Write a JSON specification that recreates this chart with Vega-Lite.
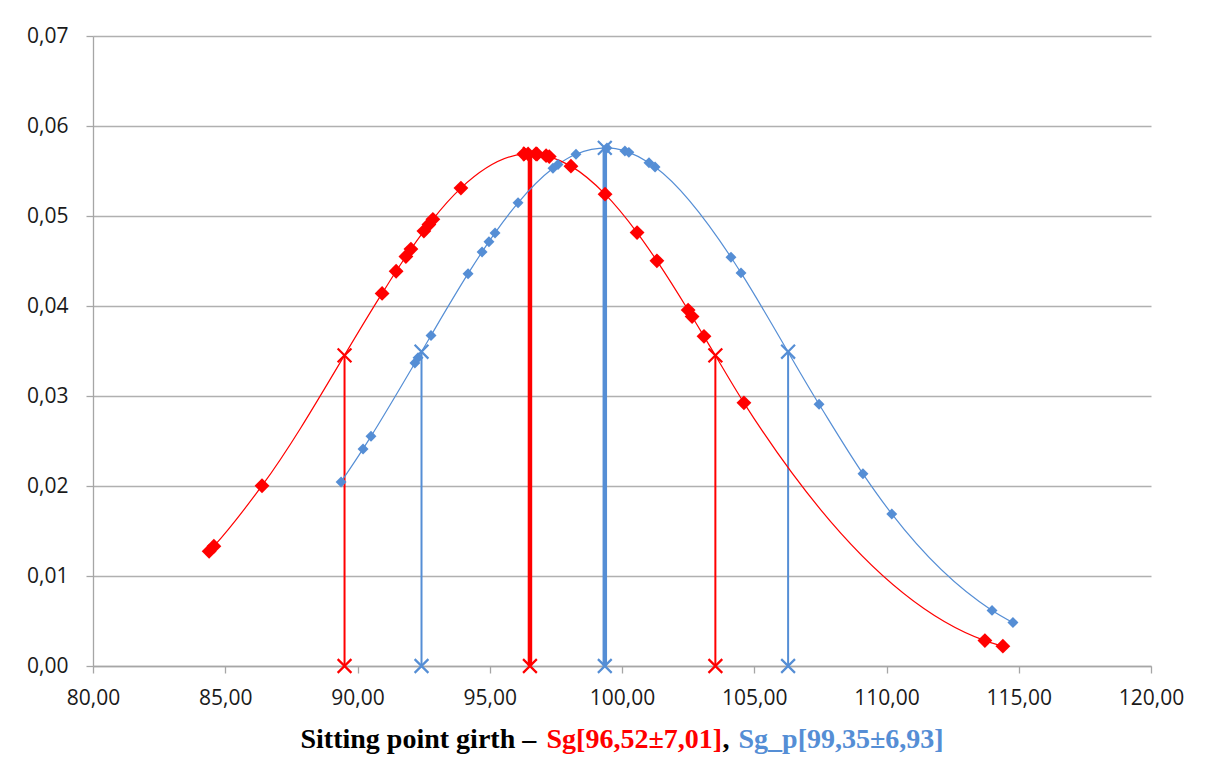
{
  "$schema": "https://vega.github.io/schema/vega-lite/v6.json",
  "width": 1058,
  "height": 630,
  "autosize": {"type": "none"},
  "padding": {"left": 93, "top": 36, "right": 60, "bottom": 112},
  "background": "white",
  "config": {
    "view": {"stroke": null},
    "axis": {
      "labelFont": "Open Sans",
      "labelFontSize": 21,
      "labelColor": "#1a1a1a",
      "titleFont": "Liberation Serif",
      "titleFontSize": 28,
      "titleFontWeight": "bold"
    }
  },
  "datasets": {
    "sg": [
      {"x": 84.39, "y": 0.01274}, {"x": 84.57, "y": 0.01331}, {"x": 86.39, "y": 0.02003},
      {"x": 90.93, "y": 0.0414}, {"x": 91.46, "y": 0.04386}, {"x": 91.83, "y": 0.0455},
      {"x": 92.02, "y": 0.04632}, {"x": 92.51, "y": 0.04832}, {"x": 92.70, "y": 0.04906},
      {"x": 92.85, "y": 0.04963}, {"x": 93.91, "y": 0.0531}, {"x": 96.29, "y": 0.05688},
      {"x": 96.45, "y": 0.0569}, {"x": 96.79, "y": 0.05687}, {"x": 97.13, "y": 0.0567},
      {"x": 97.25, "y": 0.0566}, {"x": 98.07, "y": 0.05554}, {"x": 99.36, "y": 0.05243},
      {"x": 100.57, "y": 0.04816}, {"x": 101.32, "y": 0.04502}, {"x": 102.50, "y": 0.03955},
      {"x": 102.65, "y": 0.03882}, {"x": 103.10, "y": 0.03663}, {"x": 104.61, "y": 0.02924},
      {"x": 113.72, "y": 0.00282}, {"x": 114.40, "y": 0.0022}
    ],
    "sgp": [
      {"x": 89.38, "y": 0.02045}, {"x": 90.21, "y": 0.02412}, {"x": 90.51, "y": 0.02552},
      {"x": 92.17, "y": 0.03366}, {"x": 92.29, "y": 0.03426}, {"x": 92.78, "y": 0.03673},
      {"x": 94.18, "y": 0.04359}, {"x": 94.71, "y": 0.04601}, {"x": 94.97, "y": 0.04715},
      {"x": 95.20, "y": 0.04812}, {"x": 96.07, "y": 0.05147}, {"x": 97.39, "y": 0.05531},
      {"x": 97.58, "y": 0.05572}, {"x": 98.26, "y": 0.05686}, {"x": 99.43, "y": 0.05756},
      {"x": 100.11, "y": 0.05722}, {"x": 100.26, "y": 0.05707}, {"x": 101.02, "y": 0.05592},
      {"x": 101.25, "y": 0.05545}, {"x": 104.12, "y": 0.04542}, {"x": 104.50, "y": 0.04368},
      {"x": 107.45, "y": 0.02908}, {"x": 109.11, "y": 0.02135}, {"x": 110.20, "y": 0.0169},
      {"x": 113.99, "y": 0.00618}, {"x": 114.78, "y": 0.00483}
    ],
    "stats": [
      {"series": "Sg", "kind": "sd", "x": 89.51, "y": 0.03452},
      {"series": "Sg", "kind": "mean", "x": 96.52, "y": 0.05691},
      {"series": "Sg", "kind": "sd", "x": 103.53, "y": 0.03452},
      {"series": "Sg_p", "kind": "sd", "x": 92.42, "y": 0.03492},
      {"series": "Sg_p", "kind": "mean", "x": 99.35, "y": 0.05757},
      {"series": "Sg_p", "kind": "sd", "x": 106.28, "y": 0.03492}
    ]
  },
  "encoding": {
    "y": {
      "field": "y",
      "type": "quantitative",
      "scale": {"domain": [0, 0.07], "nice": false},
      "axis": {
        "values": [0, 0.01, 0.02, 0.03, 0.04, 0.05, 0.06, 0.07],
        "labelExpr": "replace(format(datum.value, '.2f'), '.', ',')",
        "title": null,
        "grid": true,
        "gridColor": "#B0B0B0",
        "gridWidth": 1.3,
        "domainColor": "#A6A6A6",
        "domainWidth": 1.3,
        "tickColor": "#A6A6A6",
        "tickWidth": 1.3,
        "tickSize": 7,
        "labelPadding": 18,
        "labelOverlap": false,
        "labelFlush": false
      }
    }
  },
  "layer": [
    {
      "data": {"name": "stats"},
      "mark": {"type": "rule"},
      "encoding": {
        "x": {
          "field": "x", "type": "quantitative",
          "scale": {"domain": [80, 120], "nice": false, "zero": false},
          "axis": {
            "orient": "bottom",
            "values": [80, 85, 90, 95, 100, 105, 110, 115, 120],
            "labelExpr": "replace(format(datum.value, '.2f'), '.', ',')",
            "labelOverlap": false,
            "labelFlush": false,
            "grid": false,
            "domainColor": "#A6A6A6",
            "domainWidth": 1.3,
            "tickColor": "#A6A6A6",
            "tickWidth": 1.3,
            "tickSize": 7,
            "labelPadding": 14,
            "title": "Sitting point girth –",
            "titleColor": "#000000",
            "titleX": 207,
            "titleY": 81,
            "titleAlign": "left",
            "titleBaseline": "alphabetic"
          }
        },
        "y2": {"datum": 0},
        "color": {"field": "series", "type": "nominal", "scale": {"domain": ["Sg", "Sg_p"], "range": ["#FF0000", "#558ED5"]}, "legend": null},
        "strokeWidth": {"field": "kind", "type": "nominal", "scale": {"domain": ["mean", "sd"], "range": [4.5, 2]}, "legend": null}
      }
    },
    {
      "data": {"name": "sgp"},
      "mark": {"type": "line", "interpolate": "monotone", "color": "#558ED5", "strokeWidth": 1.2},
      "encoding": {
        "x": {
          "field": "x", "type": "quantitative",
          "scale": {"domain": [80, 120], "nice": false, "zero": false},
          "axis": {
            "orient": "bottom", "labels": false, "ticks": false, "domain": false, "grid": false,
            "title": ",", "titleColor": "#000000",
            "titleX": 629, "titleY": 81, "titleAlign": "left", "titleBaseline": "alphabetic"
          }
        }
      }
    },
    {
      "data": {"name": "sg"},
      "mark": {"type": "line", "interpolate": "monotone", "color": "#FF0000", "strokeWidth": 1.2},
      "encoding": {
        "x": {
          "field": "x", "type": "quantitative",
          "scale": {"domain": [80, 120], "nice": false, "zero": false},
          "axis": {
            "orient": "bottom", "labels": false, "ticks": false, "domain": false, "grid": false,
            "title": "Sg[96,52±7,01]", "titleColor": "#FF0000",
            "titleX": 453, "titleY": 81, "titleAlign": "left", "titleBaseline": "alphabetic"
          }
        }
      }
    },
    {
      "data": {"name": "sgp"},
      "mark": {"type": "point", "shape": "diamond", "filled": true, "color": "#558ED5", "size": 120, "opacity": 1},
      "encoding": {
        "x": {
          "field": "x", "type": "quantitative",
          "scale": {"domain": [80, 120], "nice": false, "zero": false},
          "axis": {
            "orient": "bottom", "labels": false, "ticks": false, "domain": false, "grid": false,
            "title": "Sg_p[99,35±6,93]", "titleColor": "#558ED5",
            "titleX": 645, "titleY": 81, "titleAlign": "left", "titleBaseline": "alphabetic"
          }
        }
      }
    },
    {
      "data": {"name": "sg"},
      "mark": {"type": "point", "shape": "diamond", "filled": true, "color": "#FF0000", "size": 220, "opacity": 1},
      "encoding": {
        "x": {"field": "x", "type": "quantitative", "scale": {"domain": [80, 120], "nice": false, "zero": false}, "axis": null}
      }
    },
    {
      "data": {"name": "stats"},
      "mark": {"type": "point", "shape": "M-1,-1L1,1M1,-1L-1,1", "filled": false, "size": 190, "strokeWidth": 2.2, "opacity": 1},
      "encoding": {
        "x": {"field": "x", "type": "quantitative", "scale": {"domain": [80, 120], "nice": false, "zero": false}, "axis": null},
        "color": {"field": "series", "type": "nominal", "scale": {"domain": ["Sg", "Sg_p"], "range": ["#FF0000", "#558ED5"]}, "legend": null}
      }
    },
    {
      "data": {"name": "stats"},
      "mark": {"type": "point", "shape": "M-1,-1L1,1M1,-1L-1,1", "filled": false, "size": 190, "strokeWidth": 2.2, "opacity": 1},
      "encoding": {
        "x": {"field": "x", "type": "quantitative", "scale": {"domain": [80, 120], "nice": false, "zero": false}, "axis": null},
        "y": {"datum": 0, "type": "quantitative"},
        "color": {"field": "series", "type": "nominal", "scale": {"domain": ["Sg", "Sg_p"], "range": ["#FF0000", "#558ED5"]}, "legend": null}
      }
    }
  ],
  "resolve": {"axis": {"x": "independent"}}
}
